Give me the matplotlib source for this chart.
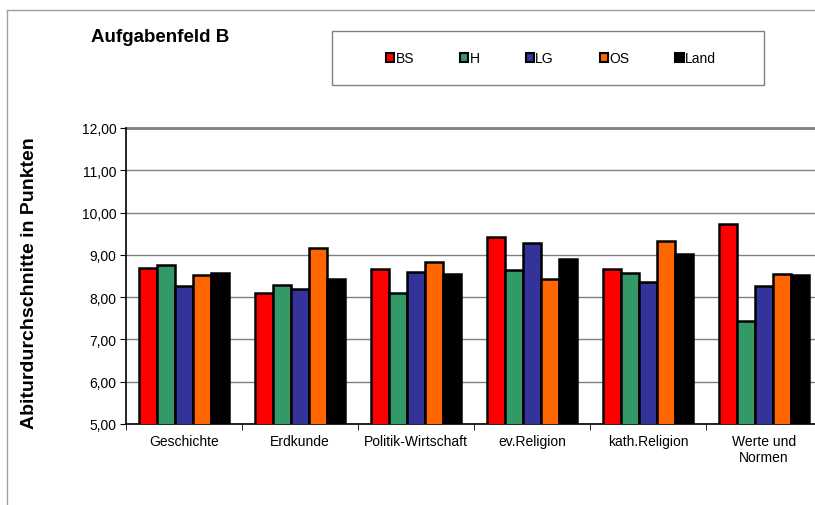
import numpy as np
import matplotlib.pyplot as plt
from matplotlib.lines import Line2D
from matplotlib.patches import Rectangle

plt.rcParams['font.family'] = ['Liberation Sans', 'DejaVu Sans']

categories = ['Geschichte', 'Erdkunde', 'Politik-Wirtschaft', 'ev.Religion',
              'kath.Religion', 'Werte und\nNormen']
series_names = ['BS', 'H', 'LG', 'OS', 'Land']
bs = [8.69, 8.10, 8.67, 9.43, 8.67, 9.72]
h = [8.77, 8.29, 8.10, 8.65, 8.57, 7.43]
lg = [8.27, 8.20, 8.59, 9.27, 8.36, 8.27]
os_ = [8.53, 9.17, 8.82, 8.44, 9.33, 8.55]
land = [8.58, 8.43, 8.55, 8.90, 9.03, 8.53]
colors = ['#FF0000', '#339966', '#333399', '#FF6600', '#000000']

fig = plt.figure(figsize=(8.15, 5.06), dpi=100)
ax = fig.add_axes([126.3 / 815, 1 - 425 / 506, (822 - 126.3) / 815, (425 - 129) / 506])

x = np.arange(len(categories))
width = 0.155
handles = []
for i, (vals, name) in enumerate(zip([bs, h, lg, os_, land], series_names)):
    b = ax.bar(x + (i - 2) * width, vals, width, color=colors[i],
               edgecolor='black', linewidth=1.8, label=name, zorder=3)
    handles.append(b)

ax.set_ylim(5, 12)
ax.set_xlim(-0.5, len(categories) - 0.5)
ax.set_yticks(np.arange(5, 12.1, 1))
ax.set_yticklabels([f'{v:.2f}'.replace('.', ',') for v in np.arange(5, 12.1, 1)],
                   fontsize=10)
ax.yaxis.grid(True, color='#808080', linewidth=1, zorder=0)
ax.set_xticks(x)
ax.set_xticklabels(categories, fontsize=10)
ax.tick_params(axis='x', length=0, pad=7)
ax.set_xticks(np.arange(-0.5, len(categories), 1), minor=True)
ax.tick_params(axis='x', which='minor', length=4, color='black')
ax.tick_params(axis='y', length=4, pad=3)
for s in ['top', 'right']:
    ax.spines[s].set_visible(False)
ax.spines['left'].set_linewidth(1.2)
ax.spines['bottom'].set_linewidth(1.2)
ax.axhline(12, color='#808080', linewidth=2, zorder=1, clip_on=False)

ax.set_ylabel('Abiturdurchschnitte in Punkten', fontsize=14, fontweight='bold')
ax.yaxis.set_label_coords((38 - 126.3) / 695.7, 0.48)

fig.text(91 / 815, 1 - 37 / 506, 'Aufgabenfeld B', fontsize=13.5,
         fontweight='bold', va='center', ha='left')

fig.add_artist(Rectangle((332 / 815, 1 - 86 / 506), 432 / 815, 54 / 506,
                         transform=fig.transFigure, fill=False,
                         edgecolor='#808080', linewidth=1))
leg = fig.legend(handles=handles, loc='center', ncol=5,
                 bbox_to_anchor=(551 / 815, 1 - 59 / 506),
                 frameon=False, fontsize=10, handlelength=0.6, handleheight=0.6,
                 handletextpad=0.1, columnspacing=3.3, borderpad=0)
for p in leg.get_patches():
    p.set_linewidth(1.5)

fig.add_artist(Line2D([7 / 815, 1], [1 - 11 / 506, 1 - 11 / 506],
                      color='#A0A0A0', linewidth=1, transform=fig.transFigure))
fig.add_artist(Line2D([7 / 815, 7 / 815], [0, 1 - 11 / 506],
                      color='#A0A0A0', linewidth=1, transform=fig.transFigure))

fig.savefig('out.png', dpi=100)
